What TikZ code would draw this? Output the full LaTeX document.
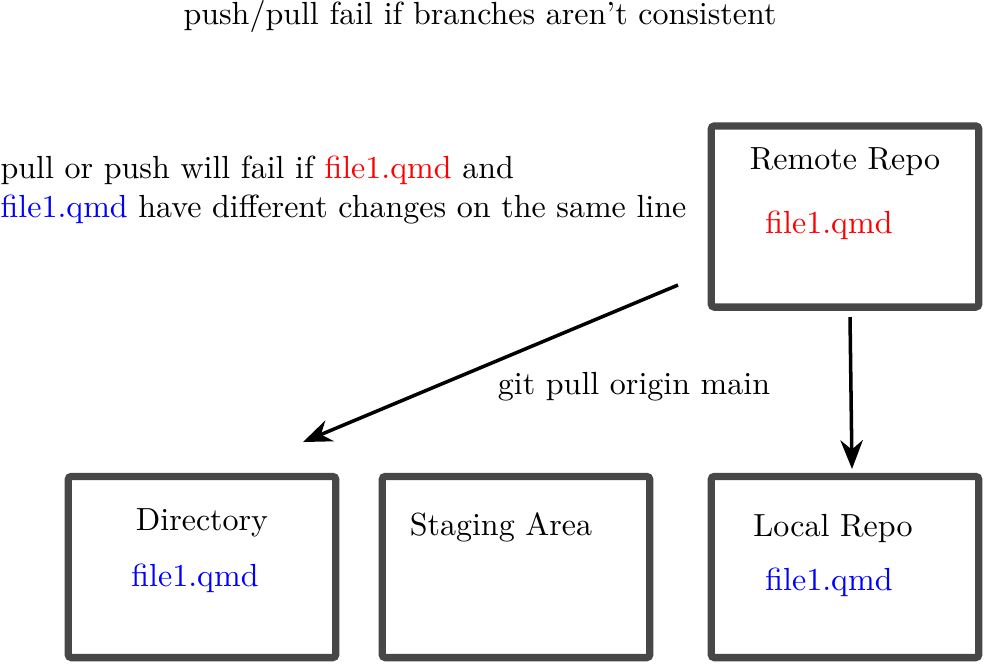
\documentclass[tikz,border=0pt]{standalone}
\usepackage{amsmath, amssymb}
\usetikzlibrary{arrows.meta}

\tikzset{
  repo/.style={draw=black!72, line width=2.3pt, rounded corners=1pt,
    minimum width=83.6pt, minimum height=56.6pt, inner sep=0pt},
  pullarrow/.style={-{Stealth[length=9pt,width=7pt]}, line width=1.1pt},
}

\begin{document}
\begin{tikzpicture}[x=0.3125pt, y=-0.3125pt]
  \useasboundingbox (0,0) rectangle (985,665);

  \node (title) at (480,16) {push/pull fail if branches aren't consistent};

  \node[repo] (remote) at (845,216.5) {};
  \node[repo] (dir) at (202,567) {};
  \node[repo] (stage) at (516,567) {};
  \node[repo] (local) at (845,567) {};

  \node (remotelabel) at (845,162) {Remote Repo};
  \node[text=red] (remotefile) at (829,225) {file1.qmd};
  \node (dirlabel) at (202,523) {Directory};
  \node[text=blue] (dirfile) at (195,578) {file1.qmd};
  \node (stagelabel) at (501,527) {Staging Area};
  \node (locallabel) at (833,528) {Local Repo};
  \node[text=blue] (localfile) at (829,582) {file1.qmd};

  \node[align=left, anchor=west, inner sep=0pt] (conflict) at (0,190)
    {pull or push will fail if \textcolor{red}{file1.qmd} and\\
     \textcolor{blue}{file1.qmd} have different changes on the same line};
  \node (pulllabel) at (634,387) {git pull origin main};

  \coordinate (pullstart) at (678,285);
  \coordinate (pullend) at (303,442);
  \coordinate (fetchstart) at (850,317);
  \coordinate (fetchend) at (852,469);

  \draw[pullarrow] (pullstart) -- (pullend);
  \draw[pullarrow] (fetchstart) -- (fetchend);
\end{tikzpicture}
\end{document}
